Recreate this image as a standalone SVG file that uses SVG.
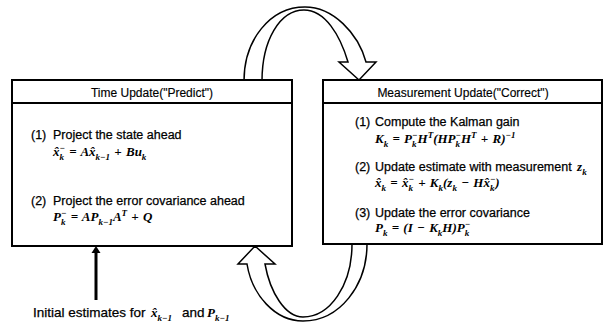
<svg xmlns="http://www.w3.org/2000/svg" width="606" height="324" viewBox="0 0 606 324">
<style>
.box{fill:#fff;stroke:#000;stroke-width:2}
.arr{fill:#fff;stroke:#000;stroke-width:1.5;stroke-linejoin:miter}
.t{font-family:"Liberation Sans",Arial,sans-serif;font-size:12.5px;fill:#000;stroke:#000;stroke-width:0.25}
.h{font-family:"Liberation Sans",Arial,sans-serif;font-size:12px;fill:#000;text-anchor:middle;stroke:#000;stroke-width:0.15}
.m{font-family:"Liberation Serif","Times New Roman",serif;font-size:13px;font-weight:bold;font-style:italic;fill:#000;word-spacing:1px;stroke:none}
.s{font-size:9px}
</style>
<rect width="606" height="324" fill="#fff"/>
<g id="connectors">
  <path class="arr" d="M244,81 C244,40 270,7 305,7 C333,7 358,33 366,62 L376,62 L359,80 L339,62 L348,62 C340,35 325,10 304,10 C280,10 262,40 262,81 Z"/>
  <path class="arr" d="M367,244 C367,285 340,321 303,321 C275,321 252,295 247,264 L238,264 L255,246 L275,264 L265,264 C270,292 285,317 303,317 C330,317 352,285 352,244 Z"/>
  <line x1="96" y1="300" x2="96" y2="252" stroke="#000" stroke-width="3"/>
  <polygon points="91.5,253 100.5,253 96,246" fill="#000"/>
</g>
<g id="time-update">
  <rect class="box" x="12" y="80" width="280" height="166"/>
  <line x1="12" y1="103" x2="292" y2="103" stroke="#000" stroke-width="2"/>
  <text class="h" x="152" y="97">Time Update("Predict")</text>
  <text class="t" x="31" y="139">(1)<tspan x="53">Project the state ahead</tspan></text>
  <text class="m" x="53" y="156"><tspan>x̂</tspan><tspan class="s" dy="3.5">k</tspan><tspan class="s" dx="-4.5" dy="-9">−</tspan><tspan dy="5.5"> = A</tspan><tspan>x̂</tspan><tspan class="s" dy="3.5">k−1</tspan><tspan dy="-3.5"> + Bu</tspan><tspan class="s" dy="3.5">k</tspan></text>
  <text class="t" x="31" y="205">(2)<tspan x="53">Project the error covariance ahead</tspan></text>
  <text class="m" x="53" y="221"><tspan>P</tspan><tspan class="s" dy="3.5">k</tspan><tspan class="s" dx="-4.5" dy="-9">−</tspan><tspan dy="5.5"> = AP</tspan><tspan class="s" dy="3.5">k−1</tspan><tspan dy="-3.5">A</tspan><tspan class="s" dy="-5">T</tspan><tspan dy="5"> + Q</tspan></text>
</g>
<g id="measurement-update">
  <rect class="box" x="323" y="80" width="279" height="164"/>
  <line x1="323" y1="103" x2="602" y2="103" stroke="#000" stroke-width="2"/>
  <text class="h" x="463" y="97">Measurement Update("Correct")</text>
  <text class="t" x="355" y="126">(1)<tspan x="375">Compute the Kalman gain</tspan></text>
  <text class="m" x="375" y="143"><tspan>K</tspan><tspan class="s" dy="3.5">k</tspan><tspan dy="-3.5"> = P</tspan><tspan class="s" dy="3.5">k</tspan><tspan class="s" dx="-4.5" dy="-9">−</tspan><tspan dy="5.5">H</tspan><tspan class="s" dy="-5">T</tspan><tspan dy="5">(HP</tspan><tspan class="s" dy="3.5">k</tspan><tspan class="s" dx="-4.5" dy="-9">−</tspan><tspan dy="5.5">H</tspan><tspan class="s" dy="-5">T</tspan><tspan dy="5"> + R)</tspan><tspan class="s" dy="-5">−1</tspan></text>
  <text class="t" x="355" y="171">(2)<tspan x="375">Update estimate with measurement </tspan><tspan class="m" dx="2">z</tspan><tspan class="m s" dy="3.5">k</tspan></text>
  <text class="m" x="375" y="187"><tspan>x̂</tspan><tspan class="s" dy="3.5">k</tspan><tspan dy="-3.5"> = </tspan><tspan>x̂</tspan><tspan class="s" dy="3.5">k</tspan><tspan class="s" dx="-4.5" dy="-9">−</tspan><tspan dy="5.5"> + K</tspan><tspan class="s" dy="3.5">k</tspan><tspan dy="-3.5">(z</tspan><tspan class="s" dy="3.5">k</tspan><tspan dy="-3.5"> − H</tspan><tspan>x̂</tspan><tspan class="s" dy="3.5">k</tspan><tspan class="s" dx="-4.5" dy="-9">−</tspan><tspan dy="5.5">)</tspan></text>
  <text class="t" x="355" y="217">(3)<tspan x="375">Update the error covariance</tspan></text>
  <text class="m" x="375" y="232"><tspan>P</tspan><tspan class="s" dy="3.5">k</tspan><tspan dy="-3.5"> = (I − K</tspan><tspan class="s" dy="3.5">k</tspan><tspan dy="-3.5">H)P</tspan><tspan class="s" dy="3.5">k</tspan><tspan class="s" dx="-4.5" dy="-9">−</tspan></text>
</g>
<g id="initial-label">
  <text class="t" x="33" y="317" style="font-size:13.5px">Initial estimates for <tspan class="m" x="151">x̂</tspan><tspan class="m s" dy="3.5">k−1</tspan><tspan x="182" dy="-3.5">and</tspan><tspan class="m" x="207">P</tspan><tspan class="m s" dy="3.5">k−1</tspan></text>
</g>
</svg>
